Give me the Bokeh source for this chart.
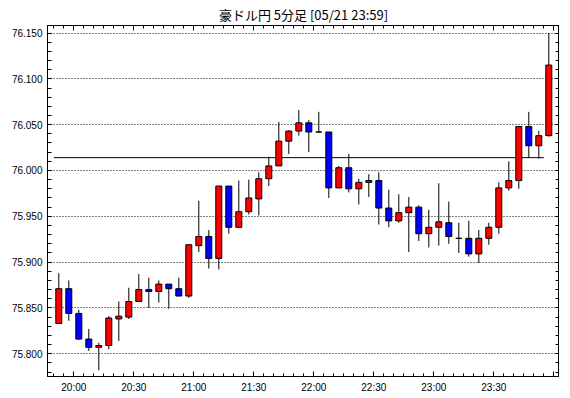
from bokeh.plotting import figure
from bokeh.models import (LinearAxis, FixedTicker, Range1d, PrintfTickFormatter,
                          Grid, CustomJSTickFormatter)
from bokeh.embed import file_html
from bokeh.resources import INLINE
import numpy as np

# ---- data (5-minute candles, AUD/JPY, 05/21) ----
# candle start times, minutes after 19:00 (19:50 ... 23:55)
start_min = list(range(50, 300, 5))
opens = [75.833, 75.871, 75.844, 75.816, 75.807, 75.809, 75.838, 75.840, 75.857, 75.870,
         75.868, 75.876, 75.871, 75.863, 75.918, 75.928, 75.904, 75.983, 75.938, 75.955,
         75.969, 75.991, 76.005, 76.032, 76.043, 76.052, 76.042, 76.042, 75.981, 76.003,
         75.980, 75.987, 75.989, 75.959, 75.945, 75.954, 75.960, 75.931, 75.938, 75.943,
         75.926, 75.926, 75.909, 75.926, 75.938, 75.981, 75.989, 76.048, 76.027, 76.038]
highs = [75.888, 75.880, 75.848, 75.827, 75.812, 75.841, 75.857, 75.872, 75.887, 75.883,
         75.880, 75.876, 75.883, 75.919, 75.967, 75.935, 75.983, 75.983, 75.989, 75.990,
         75.998, 76.015, 76.053, 76.044, 76.066, 76.055, 76.064, 76.042, 76.005, 76.018,
         75.991, 75.996, 75.998, 75.979, 75.974, 75.971, 75.962, 75.957, 75.986, 75.966,
         75.943, 75.945, 75.935, 75.943, 75.987, 76.010, 76.048, 76.064, 76.043, 76.150]
lows = [75.833, 75.836, 75.815, 75.803, 75.782, 75.805, 75.814, 75.838, 75.857, 75.850,
        75.856, 75.849, 75.863, 75.861, 75.911, 75.893, 75.892, 75.931, 75.938, 75.952,
        75.951, 75.983, 76.005, 76.018, 76.038, 76.020, 76.041, 75.970, 75.981, 75.976,
        75.963, 75.971, 75.941, 75.938, 75.943, 75.911, 75.923, 75.916, 75.918, 75.920,
        75.910, 75.906, 75.899, 75.919, 75.931, 75.978, 75.980, 76.014, 76.013, 76.037]
closes = [75.871, 75.844, 75.816, 75.807, 75.809, 75.839, 75.841, 75.857, 75.870, 75.868,
          75.876, 75.871, 75.863, 75.919, 75.928, 75.904, 75.983, 75.938, 75.955, 75.970,
          75.991, 76.005, 76.032, 76.043, 76.052, 76.042, 76.042, 75.981, 76.003, 75.980,
          75.987, 75.989, 75.959, 75.945, 75.954, 75.960, 75.931, 75.938, 75.944, 75.928,
          75.926, 75.909, 75.926, 75.938, 75.981, 75.989, 76.048, 76.027, 76.038, 76.115]
ref_level = 76.014

y_major = [75.80, 75.85, 75.90, 75.95, 76.00, 76.05, 76.10, 76.15]
x_major = [60, 90, 120, 150, 180, 210, 240, 270, 300]
x_labels = ["20:00", "20:30", "21:00", "21:30", "22:00", "22:30", "23:00", "23:30", ""]
title_text = "豪ドル円 5分足 [05/21 23:59]"

# ---- derived ----
centers = [m + 2.5 for m in start_min]
tops = [max(o, c) for o, c in zip(opens, closes)]
bottoms = [min(o, c) for o, c in zip(opens, closes)]
colors = ["#FF0000" if c > o else ("#0000FF" if c < o else "black") for o, c in zip(opens, closes)]
y_minor = [round(v, 2) for v in np.arange(75.78, 76.155, 0.01)]
x_minor = list(range(50, 305, 5))

p = figure(frame_width=512, frame_height=351,
           x_range=Range1d(46.85, 302.85), y_range=Range1d(75.7752, 76.1582),
           output_backend="svg", toolbar_location=None,
           min_border_left=0, min_border_right=0, min_border_top=0, min_border_bottom=0,
           x_axis_type=None, y_axis_type=None)
p.margin = (1, 0, 0, 8)
p.background_fill_color = "white"
p.border_fill_color = "white"
p.outline_line_color = "black"
p.outline_line_width = 1

p.title.text = title_text
p.title.text_font = "Noto Sans CJK JP"
p.title.text_font_size = "13px"
p.title.text_font_style = "normal"
p.title.text_color = "black"
p.title.align = "center"
p.title.standoff = 3

xt = FixedTicker(ticks=x_major, minor_ticks=x_minor)
yt = FixedTicker(ticks=y_major, minor_ticks=y_minor)
blank = CustomJSTickFormatter(code="return '';")


def style_axis(ax, show_labels):
    ax.axis_line_color = "black"
    ax.major_tick_line_color = "black"
    ax.minor_tick_line_color = "black"
    ax.major_tick_out = 0
    ax.minor_tick_out = 0
    if show_labels:
        ax.major_label_text_font = "Liberation Sans"
        ax.major_label_text_font_size = "10px"
        ax.major_label_text_color = "black"
        ax.major_label_standoff = 5
    else:
        ax.formatter = blank
        ax.major_label_standoff = 0


bottom = LinearAxis(ticker=xt, major_label_overrides={v: s for v, s in zip(x_major, x_labels)})
bottom.major_tick_in = 5
bottom.minor_tick_in = 3
style_axis(bottom, True)
p.add_layout(bottom, "below")

top = LinearAxis(ticker=xt)
top.major_tick_in = 5
top.minor_tick_in = 3
style_axis(top, False)
p.add_layout(top, "above")

left = LinearAxis(ticker=yt, formatter=PrintfTickFormatter(format="%.3f"))
left.major_tick_in = 4
left.minor_tick_in = 4
style_axis(left, True)
p.add_layout(left, "left")

right = LinearAxis(ticker=yt)
right.major_tick_in = 4
right.minor_tick_in = 4
style_axis(right, False)
p.add_layout(right, "right")

p.add_layout(Grid(dimension=1, ticker=yt, grid_line_color="black",
                  grid_line_dash="1 2", grid_line_width=1))

# previous-level line
p.segment(x0=[start_min[0]], x1=[start_min[-1]], y0=[ref_level], y1=[ref_level],
          line_color="black", line_width=1)

# wicks and bodies
p.segment(x0=centers, x1=centers, y0=lows, y1=highs, line_color="black", line_width=1)
p.vbar(x=centers, width=3.0, top=tops, bottom=bottoms, fill_color=colors,
       line_color="black", line_width=1)

open("out.html", "w").write(file_html(p, INLINE))
